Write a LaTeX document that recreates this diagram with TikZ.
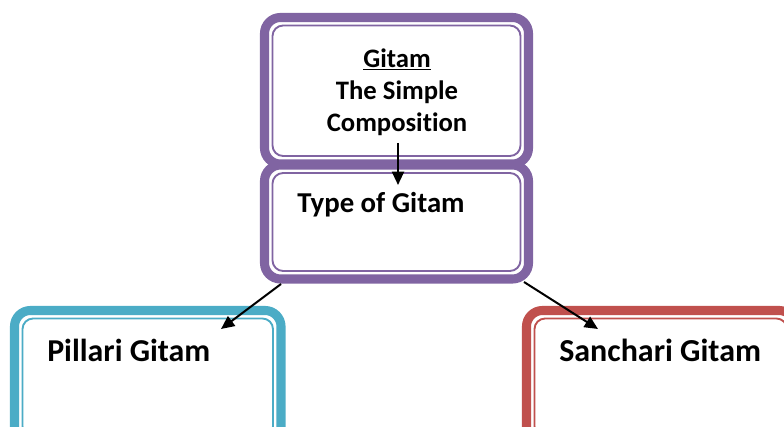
\documentclass[tikz,border=0pt]{standalone}
\usepackage{fontspec}
\setmainfont{Carlito}[Ligatures=NoCommon]
\usetikzlibrary{arrows.meta}
\definecolor{boxpurple}{HTML}{8064A2}
\definecolor{boxblue}{HTML}{4BACC6}
\definecolor{boxred}{HTML}{C0504D}
\tikzset{
  frame/.style={draw=#1, line width=6.8pt, rounded corners=12pt,
    inner sep=0pt, outer sep=0pt, fill=white},
  innerline/.style={draw=#1, line width=1.4pt, rounded corners=8pt},
  label/.style={font=\bfseries\fontsize{20}{24}\selectfont, inner sep=0pt},
  biglabel/.style={font=\bfseries\fontsize{#1}{#1}\selectfont, inner sep=0pt, anchor=base west},
  link/.style={line width=1.5pt, -{Triangle[length=10pt,width=9pt]}},
}
\begin{document}
\begin{tikzpicture}[x=0.75pt,y=-0.75pt]
  \useasboundingbox (0,0) rectangle (784,427);
  % framed boxes (centre of the thick border)
  \node[frame=boxpurple, minimum width=198pt, minimum height=85.5pt] (type) at (396.5,222) {};
  \node[frame=boxpurple, minimum width=198pt, minimum height=109.9pt] (gitam) at (396.5,90.75) {};
  \node[frame=boxblue, minimum width=199.9pt, minimum height=100.9pt] (pillari) at (147.75,377.75) {};
  \node[frame=boxred, minimum width=201.4pt, minimum height=100.9pt] (sanchari) at (660.75,377.75) {};
  % thin inner outline of every frame
  \foreach \n/\c in {gitam/boxpurple, type/boxpurple, pillari/boxblue, sanchari/boxred}
    \draw[innerline=\c] ([shift={(8,8)}]\n.north west) rectangle ([shift={(-8,-8)}]\n.south east);
  % texts
  \node[label, align=center] (title) at (397,92) {\underline{Gitam}\\The Simple\\Composition};
  \node[biglabel=21.6] (typetext) at (297,213) {Type of Gitam};
  \node[biglabel=23.9] (pillaritext) at (47,361) {Pillari Gitam};
  \node[biglabel=24] (sancharitext) at (559,361) {Sanchari Gitam};
  % arrows
  \coordinate (a1) at (398,143);
  \coordinate (a2) at (398,185);
  \coordinate (b1) at (281,284);
  \coordinate (b2) at (221,329);
  \coordinate (c1) at (524,282);
  \coordinate (c2) at (598,329);
  \draw[link] (a1) -- (a2);
  \draw[link] (b1) -- (b2);
  \draw[link] (c1) -- (c2);
\end{tikzpicture}
\end{document}
